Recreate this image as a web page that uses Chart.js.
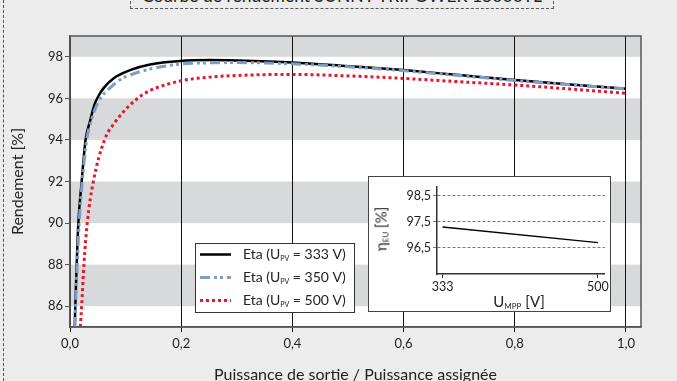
<!DOCTYPE html>
<html>
<head>
<meta charset="utf-8">
<script src="https://cdn.jsdelivr.net/npm/chart.js@4.4.1/dist/chart.umd.min.js"></script>
<style>
  body { margin: 0; background: #ebeceb; }
  #wrap { position: relative; width: 677px; height: 381px; overflow: hidden; font-family: Lato, sans-serif; color: #222; }
  #edge { position: absolute; left: 3px; top: 0; height: 381px; border-left: 1px dashed #555; }
  #title { position: absolute; left: 130px; top: -14px; width: 422px; height: 21px; border: 1px dashed #555;
           font-size: 17.5px; line-height: 18px; text-align: center; box-sizing: content-box; }
  #main { position: absolute; left: 0; top: 0; }
  #insetBox { position: absolute; left: 368px; top: 176px; width: 241px; height: 134px; border: 1px solid #444; background: #fff; }
  #inset { position: absolute; left: 0; top: 0; }
  .lbl { position: absolute; font-size: 15px; white-space: nowrap; }
  .lbl sub { font-size: 8px; vertical-align: -2px; }
  #insetY { left: 12px; top: 52px; transform: translate(-50%, -50%) rotate(-90deg); }
  #insetX { left: 150px; top: 124px; transform: translate(-50%, -50%); }
</style>
</head>
<body>
<div id="wrap">
  <div id="edge"></div>
  <div id="title">Courbe de rendement SUNNY TRIPOWER 15000TL</div>
  <canvas id="main" width="677" height="381"></canvas>
  <div id="insetBox">
    <canvas id="inset" width="241" height="134"></canvas>
    <div class="lbl" id="insetY">η<sub>EU</sub> [%]</div>
    <div class="lbl" id="insetX">U<sub>MPP</sub> [V]</div>
  </div>
</div>
<script>
// efficiency curves, output power / rated power vs efficiency [%]
const p333 = [0.0085, 0.0095, 0.012, 0.015, 0.021, 0.028, 0.036, 0.044, 0.052, 0.06, 0.078, 0.108, 0.144, 0.198, 0.25, 0.3, 0.4, 0.5, 0.6, 0.7, 0.8, 0.9, 1.0];
const eta333 = [85, 86, 88, 90, 92, 94, 94.9, 95.7, 96.15, 96.48, 96.96, 97.36, 97.63, 97.8, 97.84, 97.82, 97.73, 97.55, 97.36, 97.12, 96.88, 96.67, 96.46];
const p350 = [0.009, 0.010, 0.013, 0.0165, 0.022, 0.030, 0.039, 0.047, 0.056, 0.072, 0.09, 0.108, 0.144, 0.198, 0.25, 0.3, 0.4, 0.5, 0.6, 0.7, 0.8, 0.9, 1.0];
const eta350 = [85, 86, 88, 90, 92, 94, 95, 95.6, 96.05, 96.5, 96.9, 97.12, 97.41, 97.65, 97.71, 97.72, 97.66, 97.52, 97.33, 97.1, 96.86, 96.65, 96.45];
const p500 = [0.0185, 0.021, 0.025, 0.031, 0.042, 0.062, 0.081, 0.108, 0.132, 0.156, 0.192, 0.23, 0.3, 0.4, 0.5, 0.6, 0.7, 0.8, 0.9, 1.0];
const eta500 = [85, 86, 88, 90, 92, 94, 94.85, 95.68, 96.2, 96.51, 96.8, 96.97, 97.1, 97.15, 97.08, 96.96, 96.8, 96.64, 96.45, 96.24];
const seriesLabels = ['Eta (U_PV = 333 V)', 'Eta (U_PV = 350 V)', 'Eta (U_PV = 500 V)'];
const xTicks = [0, 0.2, 0.4, 0.6, 0.8, 1.0];
const yTicks = [86, 88, 90, 92, 94, 96, 98];
const greyBands = [[86, 88], [90, 92], [94, 96], [98, 99]];

// inset: european efficiency vs MPP voltage
const uMpp = [333, 500];
const etaEu = [97.3, 96.7];
const insetYTicks = [96.5, 97.5, 98.5];

const FONT = 'Lato, sans-serif';
const pts = (xs, ys) => xs.map((x, i) => ({ x: x, y: ys[i] }));
const comma = (v, d) => v.toFixed(d).replace('.', ',');

const bandsPlugin = {
  id: 'bands',
  beforeDraw(chart) {
    const { ctx, chartArea: a, scales: { y } } = chart;
    ctx.save();
    ctx.fillStyle = '#fff';
    ctx.fillRect(a.left, a.top, a.right - a.left, a.bottom - a.top);
    ctx.fillStyle = '#d8d9da';
    greyBands.forEach(b => {
      const y1 = y.getPixelForValue(b[1]), y0 = y.getPixelForValue(b[0]);
      ctx.fillRect(a.left, y1, a.right - a.left, y0 - y1);
    });
    ctx.restore();
  },
  afterDraw(chart) {
    const { ctx, chartArea: a } = chart;
    ctx.save();
    ctx.strokeStyle = '#555';
    ctx.lineWidth = 1.5;
    ctx.strokeRect(a.left, a.top, a.right - a.left, a.bottom - a.top);
    // legend
    const bx = 195, by = 243, bw = 159, bh = 69;
    ctx.fillStyle = '#fff';
    ctx.fillRect(bx, by, bw, bh);
    ctx.strokeStyle = '#333';
    ctx.lineWidth = 1;
    ctx.strokeRect(bx + 0.5, by + 0.5, bw, bh);
    [0, 1, 2].forEach((i, r) => {
      const ds = chart.data.datasets.find(d => d.label === seriesLabels[i]);
      const yy = by + 11.5 + r * 23;
      ctx.save();
      ctx.strokeStyle = ds.borderColor;
      ctx.lineWidth = ds.borderWidth;
      ctx.setLineDash(ds.borderDash || []);
      ctx.beginPath();
      ctx.moveTo(bx + 5, yy);
      ctx.lineTo(bx + 36, yy);
      ctx.stroke();
      ctx.restore();
      const parts = seriesLabels[i].split('_PV');
      let x = bx + 48;
      ctx.fillStyle = '#222';
      ctx.textBaseline = 'middle';
      ctx.font = '14px ' + FONT;
      ctx.fillText(parts[0], x, yy);
      x += ctx.measureText(parts[0]).width;
      ctx.font = '7px ' + FONT;
      ctx.fillText('PV', x, yy + 4);
      x += ctx.measureText('PV').width;
      ctx.font = '14px ' + FONT;
      ctx.fillText(parts[1], x, yy);
    });
    ctx.restore();
  }
};

new Chart(document.getElementById('main'), {
  type: 'line',
  data: {
    datasets: [
      { label: seriesLabels[2], data: pts(p500, eta500), borderColor: '#e5172f', borderWidth: 3, borderDash: [3, 3], order: 1 },
      { label: seriesLabels[1], data: pts(p350, eta350), borderColor: '#7f9cc6', borderWidth: 3, borderDash: [10, 4, 3, 3, 3, 4], order: 2 },
      { label: seriesLabels[0], data: pts(p333, eta333), borderColor: '#000', borderWidth: 2.5, order: 3 }
    ]
  },
  options: {
    responsive: false,
    animation: false,
    parsing: false,
    cubicInterpolationMode: 'monotone',
    pointRadius: 0,
    layout: { padding: { left: 0, top: 36, right: 36, bottom: 0 } },
    plugins: { legend: { display: false }, tooltip: { enabled: false } },
    scales: {
      x: {
        type: 'linear', min: 0, max: 1.027,
        afterBuildTicks: s => { s.ticks = xTicks.map(v => ({ value: v })); },
        afterFit: s => { s.height = 54; },
        grid: { color: '#111', lineWidth: 1, tickLength: 5 },
        border: { color: '#555', width: 1.5 },
        ticks: { color: '#222', font: { family: FONT, size: 13 }, padding: 4, maxRotation: 0,
                 callback: v => comma(v, 1) },
        title: { display: true, text: 'Puissance de sortie / Puissance assignée', color: '#222',
                 font: { family: FONT, size: 16, lineHeight: 1 }, padding: { top: 0, bottom: -2 } }
      },
      y: {
        type: 'linear', min: 85, max: 99,
        afterBuildTicks: s => { s.ticks = yTicks.map(v => ({ value: v })); },
        afterFit: s => { s.width = 70; },
        grid: { drawOnChartArea: false, color: '#555', tickLength: 5 },
        border: { color: '#555', width: 1.5 },
        ticks: { color: '#222', font: { family: FONT, size: 13 }, padding: 2 },
        title: { display: true, text: 'Rendement [%]', color: '#222',
                 font: { family: FONT, size: 16, lineHeight: 1 }, padding: { top: 10, bottom: 0 } }
      }
    }
  },
  plugins: [bandsPlugin]
});

new Chart(document.getElementById('inset'), {
  type: 'line',
  data: { datasets: [{ data: pts(uMpp, etaEu), borderColor: '#000', borderWidth: 1.3, pointRadius: 0 }] },
  options: {
    responsive: false,
    animation: false,
    parsing: false,
    layout: { padding: { left: 0, top: 9, right: 5, bottom: 0 } },
    plugins: { legend: { display: false }, tooltip: { enabled: false } },
    scales: {
      x: {
        type: 'linear', min: 327, max: 507.5,
        afterBuildTicks: s => { s.ticks = uMpp.map(v => ({ value: v })); },
        afterFit: s => { s.height = 37; },
        grid: { drawOnChartArea: false, color: '#333', tickLength: 4 },
        border: { color: '#333', width: 1.5 },
        ticks: { color: '#222', font: { family: FONT, size: 12.5 }, padding: 1, maxRotation: 0 }
      },
      y: {
        type: 'linear', min: 95.5, max: 98.85,
        afterBuildTicks: s => { s.ticks = insetYTicks.map(v => ({ value: v })); },
        afterFit: s => { s.width = 68; },
        grid: { color: '#555', lineWidth: 0.8, tickLength: 4 },
        border: { color: '#333', width: 1.5, dash: [3, 2] },
        ticks: { color: '#222', font: { family: FONT, size: 12.5 }, padding: 2, callback: v => comma(v, 1) }
      }
    }
  }
});
</script>
</body>
</html>
